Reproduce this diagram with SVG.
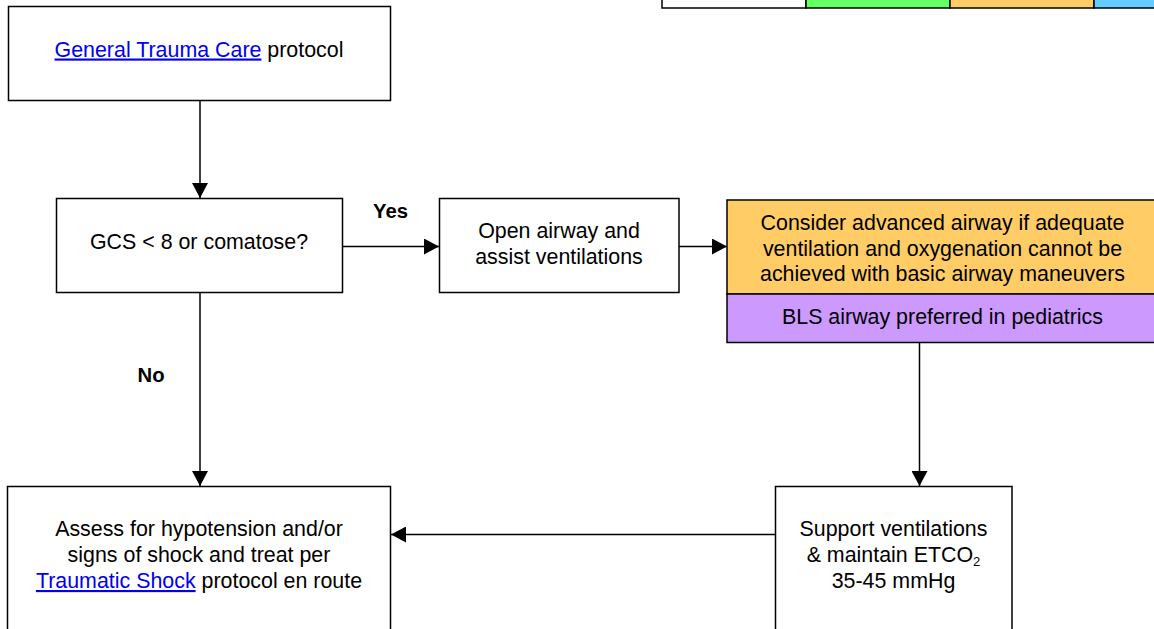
<svg xmlns="http://www.w3.org/2000/svg" width="1154" height="629" viewBox="0 0 1154 629">
<style>
.box{fill:#fff;stroke:#000;stroke-width:1.5}
.t{font-family:"Liberation Sans",Arial,Helvetica,sans-serif;font-size:21.4px;fill:#000;text-anchor:middle}
.b{font-family:"Liberation Sans",Arial,Helvetica,sans-serif;font-size:20.3px;font-weight:bold;fill:#000}
.lk{fill:#0000EE;text-decoration:underline}
.ln{stroke:#000;stroke-width:1.5;fill:none}
</style>
<defs>
<marker id="ah" markerWidth="15" markerHeight="16" refX="15" refY="8" orient="auto" markerUnits="userSpaceOnUse">
<path d="M0,0 L15,8 L0,16 Z" fill="#000"/>
</marker>
</defs>
<g id="legend">
<rect x="662" y="-10" width="144" height="18" fill="#fff" stroke="#000" stroke-width="1.5"/>
<rect x="806" y="-10" width="144" height="18" fill="#66FF66" stroke="#000" stroke-width="1.5"/>
<rect x="950" y="-10" width="144" height="18" fill="#FFCC66" stroke="#000" stroke-width="1.5"/>
<rect x="1094" y="-10" width="144" height="18" fill="#66CCFF" stroke="#000" stroke-width="1.5"/>
</g>
<g id="connectors">
<line class="ln" x1="200" y1="101" x2="200" y2="198" marker-end="url(#ah)"/>
<line class="ln" x1="343" y1="246.5" x2="439" y2="246.5" marker-end="url(#ah)"/>
<line class="ln" x1="679" y1="246.5" x2="727" y2="246.5" marker-end="url(#ah)"/>
<line class="ln" x1="200" y1="292.5" x2="200" y2="486" marker-end="url(#ah)"/>
<line class="ln" x1="919.5" y1="342.5" x2="919.5" y2="486" marker-end="url(#ah)"/>
<line class="ln" x1="775" y1="534.5" x2="391" y2="534.5" marker-end="url(#ah)"/>
<text class="b" x="373" y="218">Yes</text>
<text class="b" x="137.5" y="382">No</text>
</g>
<g id="n-general">
<rect class="box" x="8.5" y="6.5" width="382" height="94"/>
<text class="t" x="199" y="56.5"><tspan class="lk">General Trauma Care</tspan> protocol</text>
</g>
<g id="n-gcs">
<rect class="box" x="56.5" y="198.5" width="286" height="94"/>
<text class="t" x="199" y="249">GCS &lt; 8 or comatose?</text>
</g>
<g id="n-open">
<rect class="box" x="439.5" y="198.5" width="239.5" height="94"/>
<text class="t" x="559" y="238">Open airway and</text>
<text class="t" x="559" y="264">assist ventilations</text>
</g>
<g id="n-consider">
<rect x="727" y="200" width="440" height="94" fill="#FFCC66" stroke="#000" stroke-width="1.5"/>
<text class="t" x="942.5" y="229.5">Consider advanced airway if adequate</text>
<text class="t" x="942.5" y="255.5">ventilation and oxygenation cannot be</text>
<text class="t" x="942.5" y="281">achieved with basic airway maneuvers</text>
</g>
<g id="n-bls">
<rect x="727" y="294" width="440" height="48.5" fill="#CC99FF" stroke="#000" stroke-width="1.5"/>
<text class="t" x="942.5" y="323.5">BLS airway preferred in pediatrics</text>
</g>
<g id="n-support">
<rect class="box" x="775.5" y="486.5" width="236.5" height="160"/>
<text class="t" x="893.5" y="536">Support ventilations</text>
<text class="t" x="893.5" y="562">&amp; maintain ETCO<tspan font-size="13" dy="4">2</tspan></text>
<text class="t" x="893.5" y="588">35-45 mmHg</text>
</g>
<g id="n-assess">
<rect class="box" x="7.5" y="486.5" width="383" height="160"/>
<text class="t" x="199" y="536">Assess for hypotension and/or</text>
<text class="t" x="199" y="562">signs of shock and treat per</text>
<text class="t" x="199" y="588"><tspan class="lk">Traumatic Shock</tspan> protocol en route</text>
</g>
</svg>
